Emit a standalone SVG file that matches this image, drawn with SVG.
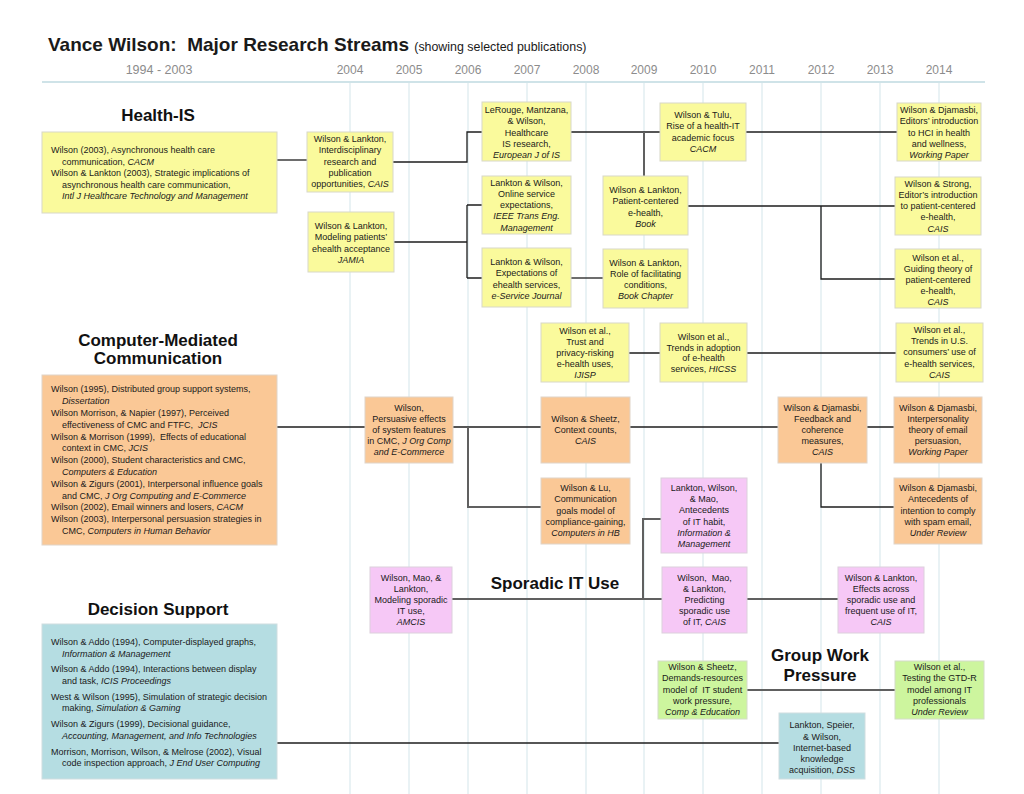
<svg xmlns="http://www.w3.org/2000/svg" width="1024" height="794" viewBox="0 0 1024 794">
<style>
text{font-family:"Liberation Sans",Arial,sans-serif;fill:#1a1a1a}
.t{font-size:9px}
.c{text-anchor:middle}
.i{font-style:italic}
.h{font-size:17px;font-weight:bold;text-anchor:middle;fill:#111}
.yr{font-size:12px;fill:#8c8c8c;text-anchor:middle}
.grid{stroke:#d3e5ea;stroke-width:1}
.y{fill:#fafa9c;stroke:#d8d8c8;stroke-width:1}
.o{fill:#fac896;stroke:#e0d4c8;stroke-width:1}
.p{fill:#f6c8f6;stroke:#dcd0dc;stroke-width:1}
.g{fill:#cdf59e;stroke:#d4dcc8;stroke-width:1}
.b{fill:#b5dde2;stroke:#cfdde0;stroke-width:1}
.ln{fill:none;stroke:#1e1e1e;stroke-width:1.3}
.lg{fill:none;stroke:#606060;stroke-width:2}
</style>
<rect width="1024" height="794" fill="#ffffff"/>
<g id="header">
<text x="48" y="51" style="font-size:19px;font-weight:bold" fill="#111">Vance Wilson:&#160; Major Research Streams <tspan style="font-size:12.4px;font-weight:normal">(showing selected publications)</tspan></text>
<text class="yr" x="159" y="74" style="font-size:12.5px">1994 - 2003</text>
<text class="yr" x="350" y="74">2004</text>
<text class="yr" x="409" y="74">2005</text>
<text class="yr" x="468" y="74">2006</text>
<text class="yr" x="527" y="74">2007</text>
<text class="yr" x="586" y="74">2008</text>
<text class="yr" x="644" y="74">2009</text>
<text class="yr" x="703" y="74">2010</text>
<text class="yr" x="762" y="74">2011</text>
<text class="yr" x="821" y="74">2012</text>
<text class="yr" x="880" y="74">2013</text>
<text class="yr" x="939" y="74">2014</text>
</g>
<g id="grid">
<line x1="42" y1="82" x2="985" y2="82" stroke="#cfe3e8" stroke-width="2"/>
<line class="grid" x1="350" y1="83" x2="350" y2="794"/>
<line class="grid" x1="409" y1="83" x2="409" y2="794"/>
<line class="grid" x1="468" y1="83" x2="468" y2="794"/>
<line class="grid" x1="527" y1="83" x2="527" y2="794"/>
<line class="grid" x1="586" y1="83" x2="586" y2="794"/>
<line class="grid" x1="644" y1="83" x2="644" y2="794"/>
<line class="grid" x1="703" y1="83" x2="703" y2="794"/>
<line class="grid" x1="762" y1="83" x2="762" y2="794"/>
<line class="grid" x1="821" y1="83" x2="821" y2="794"/>
<line class="grid" x1="880" y1="83" x2="880" y2="794"/>
<line class="grid" x1="939" y1="83" x2="939" y2="794"/>
</g>
<g id="titles">
<text class="h" x="158" y="121">Health-IS</text>
<text class="h" x="158" y="346">Computer-Mediated</text>
<text class="h" x="158" y="364">Communication</text>
<text class="h" x="158" y="615">Decision Support</text>
<text class="h" x="555" y="589">Sporadic IT Use</text>
<text class="h" x="820" y="661">Group Work</text>
<text class="h" x="820" y="681">Pressure</text>
</g>
<g id="connectors">
<path class="ln" d="M277,160H307"/>
<path class="ln" d="M393,162H467V132H482"/>
<path class="ln" d="M394,242H467M467,205V278M467,205H482M467,278H482"/>
<path class="ln" d="M571,132H660"/>
<path class="lg" d="M644,132V176"/>
<path class="ln" d="M746,132H897"/>
<path class="ln" d="M688,206H895M821,206V279H895"/>
<path class="ln" d="M571,278H603"/>
<path class="ln" d="M629,353H660M747,353H896"/>
<path class="ln" d="M277,427H365M453,427H541"/>
<path class="lg" d="M468,427V507H541"/>
<path class="ln" d="M630,427H778M867,427H894M821,463V507H894"/>
<path class="lg" d="M452,599H662M643,599V519H661"/>
<path class="lg" d="M747,599H838"/>
<path class="lg" d="M747,690H895"/>
<path class="ln" d="M277,743H779"/>
</g>
<g id="health-left">
<rect class="y" x="42" y="132" width="235" height="81"/>
<text class="t"><tspan x="51" y="153">Wilson (2003), Asynchronous health care</tspan><tspan x="62" y="164.5">communication, <tspan class="i">CACM</tspan></tspan><tspan x="51" y="176">Wilson &amp; Lankton (2003), Strategic implications of</tspan><tspan x="62" y="187.5">asynchronous health care communication,</tspan><tspan x="62" y="199" class="i">Intl J Healthcare Technology and Management</tspan></text>
</g>
<g id="interdisciplinary">
<rect class="y" x="307" y="132" width="86" height="60"/>
<text class="t c"><tspan x="350" y="142">Wilson &amp; Lankton,</tspan><tspan x="350" y="153.3">Interdisciplinary</tspan><tspan x="350" y="164.6">research and</tspan><tspan x="350" y="175.9">publication</tspan><tspan x="350" y="187.2">opportunities, <tspan class="i">CAIS</tspan></tspan></text>
</g>
<g id="jamia">
<rect class="y" x="308" y="212" width="86" height="60"/>
<text class="t c"><tspan x="351" y="229">Wilson &amp; Lankton,</tspan><tspan x="351" y="240.3">Modeling patients’</tspan><tspan x="351" y="251.6">ehealth acceptance</tspan><tspan x="351" y="262.9" class="i">JAMIA</tspan></text>
</g>
<g id="lerouge">
<rect class="y" x="482" y="102" width="89" height="59"/>
<text class="t c"><tspan x="526.5" y="113">LeRouge, Mantzana,</tspan><tspan x="526.5" y="124.3">&amp; Wilson,</tspan><tspan x="526.5" y="135.6">Healthcare</tspan><tspan x="526.5" y="146.9">IS research,</tspan><tspan x="526.5" y="158.2" class="i">European J of IS</tspan></text>
</g>
<g id="online">
<rect class="y" x="482" y="176" width="89" height="58"/>
<text class="t c"><tspan x="526.5" y="185.5">Lankton &amp; Wilson,</tspan><tspan x="526.5" y="196.8">Online service</tspan><tspan x="526.5" y="208.1">expectations,</tspan><tspan x="526.5" y="219.4" class="i">IEEE Trans Eng.</tspan><tspan x="526.5" y="230.7" class="i">Management</tspan></text>
</g>
<g id="expectations">
<rect class="y" x="482" y="248" width="89" height="59"/>
<text class="t c"><tspan x="526.5" y="265">Lankton &amp; Wilson,</tspan><tspan x="526.5" y="276.3">Expectations of</tspan><tspan x="526.5" y="287.6">ehealth services,</tspan><tspan x="526.5" y="298.9" class="i">e-Service Journal</tspan></text>
</g>
<g id="tulu">
<rect class="y" x="660" y="103" width="86" height="58"/>
<text class="t c"><tspan x="703" y="118">Wilson &amp; Tulu,</tspan><tspan x="703" y="129.3">Rise of a health-IT</tspan><tspan x="703" y="140.6">academic focus</tspan><tspan x="703" y="151.9" class="i">CACM</tspan></text>
</g>
<g id="patient-centered">
<rect class="y" x="603" y="176" width="85" height="59"/>
<text class="t c"><tspan x="645.5" y="193">Wilson &amp; Lankton,</tspan><tspan x="645.5" y="204.3">Patient-centered</tspan><tspan x="645.5" y="215.6">e-health,</tspan><tspan x="645.5" y="226.9" class="i">Book</tspan></text>
</g>
<g id="facilitating">
<rect class="y" x="603" y="249" width="85" height="59"/>
<text class="t c"><tspan x="645.5" y="265.5">Wilson &amp; Lankton,</tspan><tspan x="645.5" y="276.8">Role of facilitating</tspan><tspan x="645.5" y="288.1">conditions,</tspan><tspan x="645.5" y="299.4" class="i">Book Chapter</tspan></text>
</g>
<g id="editors-hci">
<rect class="y" x="897" y="103" width="84" height="58"/>
<text class="t c"><tspan x="939" y="113">Wilson &amp; Djamasbi,</tspan><tspan x="939" y="124.3">Editors’ introduction</tspan><tspan x="939" y="135.6">to HCI in health</tspan><tspan x="939" y="146.9">and wellness,</tspan><tspan x="939" y="158.2" class="i">Working Paper</tspan></text>
</g>
<g id="strong">
<rect class="y" x="895" y="177" width="86" height="58"/>
<text class="t c"><tspan x="938" y="186.5">Wilson &amp; Strong,</tspan><tspan x="938" y="197.8">Editor’s introduction</tspan><tspan x="938" y="209.1">to patient-centered</tspan><tspan x="938" y="220.4">e-health,</tspan><tspan x="938" y="231.7" class="i">CAIS</tspan></text>
</g>
<g id="guiding">
<rect class="y" x="895" y="249" width="86" height="59"/>
<text class="t c"><tspan x="938" y="261">Wilson et al.,</tspan><tspan x="938" y="272">Guiding theory of</tspan><tspan x="938" y="283">patient-centered</tspan><tspan x="938" y="294">e-health,</tspan><tspan x="938" y="305" class="i">CAIS</tspan></text>
</g>
<g id="trust">
<rect class="y" x="541" y="323" width="88" height="59"/>
<text class="t c"><tspan x="585" y="334">Wilson et al.,</tspan><tspan x="585" y="345">Trust and</tspan><tspan x="585" y="356">privacy-risking</tspan><tspan x="585" y="367">e-health uses,</tspan><tspan x="585" y="378" class="i">IJISP</tspan></text>
</g>
<g id="trends-adoption">
<rect class="y" x="660" y="323" width="87" height="59"/>
<text class="t c"><tspan x="703.5" y="340">Wilson et al.,</tspan><tspan x="703.5" y="350.7">Trends in adoption</tspan><tspan x="703.5" y="361.4">of e-health</tspan><tspan x="703.5" y="372.1">services, <tspan class="i">HICSS</tspan></tspan></text>
</g>
<g id="trends-us">
<rect class="y" x="896" y="323" width="87" height="59"/>
<text class="t c"><tspan x="939.5" y="333">Wilson et al.,</tspan><tspan x="939.5" y="344.2">Trends in U.S.</tspan><tspan x="939.5" y="355.4">consumers’ use of</tspan><tspan x="939.5" y="366.6">e-health services,</tspan><tspan x="939.5" y="377.8" class="i">CAIS</tspan></text>
</g>
<g id="cmc-left">
<rect class="o" x="42" y="375" width="235" height="170"/>
<text class="t"><tspan x="51" y="392.3">Wilson (1995), Distributed group support systems,</tspan><tspan x="62" y="404.1" class="i">Dissertation</tspan><tspan x="51" y="415.9">Wilson Morrison, &amp; Napier (1997), Perceived</tspan><tspan x="62" y="427.7">effectiveness of CMC and FTFC,&#160; <tspan class="i">JCIS</tspan></tspan><tspan x="51" y="439.5">Wilson &amp; Morrison (1999),&#160; Effects of educational</tspan><tspan x="62" y="451.3">context in CMC, <tspan class="i">JCIS</tspan></tspan><tspan x="51" y="463.1">Wilson (2000), Student characteristics and CMC,</tspan><tspan x="62" y="474.9" class="i">Computers &amp; Education</tspan><tspan x="51" y="486.7">Wilson &amp; Zigurs (2001), Interpersonal influence goals</tspan><tspan x="62" y="498.5">and CMC, <tspan class="i">J Org Computing and E-Commerce</tspan></tspan><tspan x="51" y="510.3">Wilson (2002), Email winners and losers, <tspan class="i">CACM</tspan></tspan><tspan x="51" y="522.1">Wilson (2003), Interpersonal persuasion strategies in</tspan><tspan x="62" y="533.9">CMC, <tspan class="i">Computers in Human Behavior</tspan></tspan></text>
</g>
<g id="persuasive">
<rect class="o" x="365" y="397" width="88" height="66"/>
<text class="t c"><tspan x="409" y="411">Wilson,</tspan><tspan x="409" y="422">Persuasive effects</tspan><tspan x="409" y="433">of system features</tspan><tspan x="409" y="444">in CMC, <tspan class="i">J Org Comp</tspan></tspan><tspan x="409" y="455" class="i">and E-Commerce</tspan></text>
</g>
<g id="context-counts">
<rect class="o" x="541" y="397" width="89" height="66"/>
<text class="t c"><tspan x="585.5" y="422">Wilson &amp; Sheetz,</tspan><tspan x="585.5" y="433">Context counts,</tspan><tspan x="585.5" y="444" class="i">CAIS</tspan></text>
</g>
<g id="wilson-lu">
<rect class="o" x="541" y="478" width="89" height="66"/>
<text class="t c"><tspan x="585.5" y="491">Wilson &amp; Lu,</tspan><tspan x="585.5" y="502.3">Communication</tspan><tspan x="585.5" y="513.6">goals model of</tspan><tspan x="585.5" y="524.9">compliance-gaining,</tspan><tspan x="585.5" y="536.2" class="i">Computers in HB</tspan></text>
</g>
<g id="feedback">
<rect class="o" x="778" y="397" width="89" height="66"/>
<text class="t c"><tspan x="822.5" y="411">Wilson &amp; Djamasbi,</tspan><tspan x="822.5" y="422">Feedback and</tspan><tspan x="822.5" y="433">coherence</tspan><tspan x="822.5" y="444">measures,</tspan><tspan x="822.5" y="455" class="i">CAIS</tspan></text>
</g>
<g id="interpersonality">
<rect class="o" x="894" y="397" width="88" height="66"/>
<text class="t c"><tspan x="938" y="411">Wilson &amp; Djamasbi,</tspan><tspan x="938" y="422">Interpersonality</tspan><tspan x="938" y="433">theory of email</tspan><tspan x="938" y="444">persuasion,</tspan><tspan x="938" y="455" class="i">Working Paper</tspan></text>
</g>
<g id="spam">
<rect class="o" x="894" y="478" width="88" height="66"/>
<text class="t c"><tspan x="938" y="491">Wilson &amp; Djamasbi,</tspan><tspan x="938" y="502.3">Antecedents of</tspan><tspan x="938" y="513.6">intention to comply</tspan><tspan x="938" y="524.9">with spam email,</tspan><tspan x="938" y="536.2" class="i">Under Review</tspan></text>
</g>
<g id="it-habit">
<rect class="p" x="661" y="478" width="86" height="75"/>
<text class="t c"><tspan x="704" y="491">Lankton, Wilson,</tspan><tspan x="704" y="502.2">&amp; Mao,</tspan><tspan x="704" y="513.4">Antecedents</tspan><tspan x="704" y="524.6">of IT habit,</tspan><tspan x="704" y="535.8" class="i">Information &amp;</tspan><tspan x="704" y="547" class="i">Management</tspan></text>
</g>
<g id="amcis">
<rect class="p" x="370" y="567" width="82" height="66"/>
<text class="t c"><tspan x="411" y="581">Wilson, Mao, &amp;</tspan><tspan x="411" y="592">Lankton,</tspan><tspan x="411" y="603">Modeling sporadic</tspan><tspan x="411" y="614">IT use,</tspan><tspan x="411" y="625" class="i">AMCIS</tspan></text>
</g>
<g id="predicting">
<rect class="p" x="662" y="567" width="85" height="66"/>
<text class="t c"><tspan x="704.5" y="581">Wilson,&#160; Mao,</tspan><tspan x="704.5" y="592">&amp; Lankton,</tspan><tspan x="704.5" y="603">Predicting</tspan><tspan x="704.5" y="614">sporadic use</tspan><tspan x="704.5" y="625">of IT, <tspan class="i">CAIS</tspan></tspan></text>
</g>
<g id="effects-across">
<rect class="p" x="838" y="567" width="86" height="66"/>
<text class="t c"><tspan x="881" y="581">Wilson &amp; Lankton,</tspan><tspan x="881" y="592">Effects across</tspan><tspan x="881" y="603">sporadic use and</tspan><tspan x="881" y="614">frequent use of IT,</tspan><tspan x="881" y="625" class="i">CAIS</tspan></text>
</g>
<g id="demands">
<rect class="g" x="658" y="661" width="89" height="58"/>
<text class="t c"><tspan x="702.5" y="670">Wilson &amp; Sheetz,</tspan><tspan x="702.5" y="681.3">Demands-resources</tspan><tspan x="702.5" y="692.6">model of&#160; IT student</tspan><tspan x="702.5" y="703.9">work pressure,</tspan><tspan x="702.5" y="715.2" class="i">Comp &amp; Education</tspan></text>
</g>
<g id="gtd-r">
<rect class="g" x="895" y="661" width="89" height="58"/>
<text class="t c"><tspan x="939.5" y="670">Wilson et al.,</tspan><tspan x="939.5" y="681.3">Testing the GTD-R</tspan><tspan x="939.5" y="692.6">model among IT</tspan><tspan x="939.5" y="703.9">professionals</tspan><tspan x="939.5" y="715.2" class="i">Under Review</tspan></text>
</g>
<g id="ds-left">
<rect class="b" x="42" y="624" width="235" height="155"/>
<text class="t"><tspan x="51" y="645">Wilson &amp; Addo (1994), Computer-displayed graphs,</tspan><tspan x="62" y="656.5" class="i">Information &amp; Management</tspan><tspan x="51" y="672">Wilson &amp; Addo (1994), Interactions between display</tspan><tspan x="62" y="683.5">and task, <tspan class="i">ICIS Proceedings</tspan></tspan><tspan x="51" y="699.5">West &amp; Wilson (1995), Simulation of strategic decision</tspan><tspan x="62" y="711">making, <tspan class="i">Simulation &amp; Gaming</tspan></tspan><tspan x="51" y="727">Wilson &amp; Zigurs (1999), Decisional guidance,</tspan><tspan x="62" y="738.5" class="i">Accounting, Management, and Info Technologies</tspan><tspan x="51" y="754.5">Morrison, Morrison, Wilson, &amp; Melrose (2002), Visual</tspan><tspan x="62" y="766">code inspection approach, <tspan class="i">J End User Computing</tspan></tspan></text>
</g>
<g id="knowledge">
<rect class="b" x="779" y="713" width="86" height="66"/>
<text class="t c"><tspan x="822" y="728">Lankton, Speier,</tspan><tspan x="822" y="739.5">&amp; Wilson,</tspan><tspan x="822" y="751">Internet-based</tspan><tspan x="822" y="761.5">knowledge</tspan><tspan x="822" y="772.5">acquisition, <tspan class="i">DSS</tspan></tspan></text>
</g>
</svg>
